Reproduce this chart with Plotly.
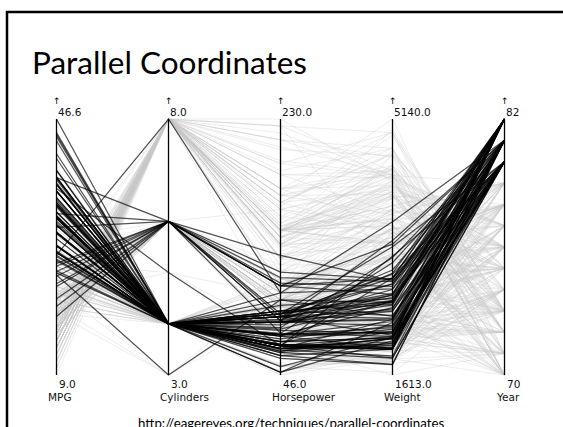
import plotly.graph_objects as go

# Parallel coordinates of the classic auto-mpg data set.
# Each row: (mpg, cylinders, horsepower, weight); model year given by the list name.
AXIS_NAMES = ["MPG", "Cylinders", "Horsepower", "Weight", "Year"]
AXIS_MIN = [9.0, 3.0, 46.0, 1613.0, 70]
AXIS_MAX = [46.6, 8.0, 230.0, 5140.0, 82]
AXIS_MIN_LABELS = ["9.0", "3.0", "46.0", "1613.0", "70"]
AXIS_MAX_LABELS = ["46.6", "8.0", "230.0", "5140.0", "82"]
HIGHLIGHT_YEARS = [80, 81, 82]

CARS_70 = [
    (18, 8, 130, 3504), (15, 8, 165, 3693), (18, 8, 150, 3436), (16, 8, 150, 3433),
    (17, 8, 140, 3449), (15, 8, 198, 4341), (14, 8, 220, 4354), (14, 8, 215, 4312),
    (14, 8, 225, 4425), (15, 8, 190, 3850), (15, 8, 170, 3563), (14, 8, 160, 3609),
    (15, 8, 150, 3761), (14, 8, 225, 3086), (24, 4, 95, 2372), (22, 6, 95, 2833),
    (18, 6, 97, 2774), (21, 6, 85, 2587), (27, 4, 88, 2130), (26, 4, 46, 1835),
    (25, 4, 87, 2672), (24, 4, 90, 2430), (25, 4, 95, 2375), (26, 4, 113, 2234),
    (21, 6, 90, 2648), (10, 8, 215, 4615), (10, 8, 200, 4376), (11, 8, 210, 4382),
    (9, 8, 193, 4732),
]
CARS_71 = [
    (27, 4, 88, 2130), (28, 4, 90, 2264), (25, 4, 95, 2228), (19, 6, 100, 2634),
    (16, 6, 105, 3439), (17, 6, 100, 3329), (19, 6, 88, 3302), (18, 6, 100, 3288),
    (14, 8, 165, 4209), (14, 8, 175, 4464), (14, 8, 153, 4154), (14, 8, 150, 4096),
    (12, 8, 180, 4955), (13, 8, 170, 4746), (13, 8, 175, 5140), (18, 6, 110, 2962),
    (22, 4, 72, 2408), (19, 6, 100, 3282), (18, 6, 88, 3139), (23, 4, 86, 2220),
    (28, 4, 90, 2123), (30, 4, 70, 2074), (30, 4, 76, 2065), (31, 4, 65, 1773),
    (35, 4, 69, 1613), (27, 4, 60, 1834), (26, 4, 70, 1955),
]
CARS_72 = [
    (24, 4, 95, 2278), (25, 4, 80, 2126), (23, 4, 54, 2254), (20, 4, 90, 2408),
    (21, 4, 86, 2226), (13, 8, 165, 4274), (14, 8, 175, 4385), (15, 8, 150, 4135),
    (14, 8, 153, 4129), (17, 8, 150, 3672), (11, 8, 208, 4633), (13, 8, 155, 4502),
    (12, 8, 160, 4456), (13, 8, 190, 4422), (19, 3, 97, 2330), (15, 8, 150, 3892),
    (13, 8, 130, 4098), (13, 8, 140, 4294), (14, 8, 150, 4077), (18, 4, 80, 2933),
    (22, 4, 80, 2511), (21, 4, 76, 2979), (26, 4, 88, 2189), (22, 4, 86, 2395),
    (28, 4, 92, 2288), (23, 4, 97, 2506), (28, 4, 80, 2164), (27, 4, 88, 2100),
]
CARS_73 = [
    (13, 8, 175, 4100), (14, 8, 150, 3672), (13, 8, 145, 3988), (14, 8, 137, 4042),
    (15, 8, 150, 3777), (12, 8, 198, 4952), (13, 8, 150, 4464), (13, 8, 158, 4363),
    (14, 8, 150, 4237), (13, 8, 215, 4735), (12, 8, 225, 4951), (13, 8, 175, 3821),
    (18, 6, 105, 3121), (16, 6, 100, 3278), (18, 6, 100, 2945), (18, 6, 88, 3021),
    (23, 6, 95, 2904), (26, 4, 46, 1950), (11, 8, 150, 4997), (12, 8, 167, 4906),
    (13, 8, 170, 4654), (12, 8, 180, 4499), (18, 6, 100, 2789), (20, 4, 88, 2279),
    (21, 4, 72, 2401), (22, 4, 94, 2379), (18, 3, 90, 2124), (19, 4, 85, 2310),
    (21, 6, 107, 2472), (26, 4, 90, 2265), (15, 8, 145, 4082), (16, 8, 230, 4278),
    (29, 4, 49, 1867), (24, 4, 75, 2158), (20, 4, 91, 2582), (19, 4, 112, 2868),
    (15, 8, 150, 3399), (24, 4, 110, 2660), (20, 6, 122, 2807), (11, 8, 180, 3664),
]
CARS_74 = [
    (20, 6, 95, 3102), (19, 6, 100, 2901), (15, 6, 100, 3336), (31, 4, 67, 1950),
    (26, 4, 80, 2451), (32, 4, 65, 1836), (25, 4, 75, 2542), (16, 6, 100, 3781),
    (16, 6, 110, 3632), (18, 6, 105, 3613), (16, 8, 140, 4141), (13, 8, 150, 4699),
    (14, 8, 150, 4457), (14, 8, 140, 4638), (14, 8, 150, 4257), (29, 4, 83, 2219),
    (26, 4, 67, 1963), (26, 4, 78, 2300), (31, 4, 52, 1649), (32, 4, 61, 2003),
    (28, 4, 75, 2125), (24, 4, 75, 2108), (26, 4, 91, 2246), (24, 4, 93, 2254),
    (26, 4, 52, 1795), (31, 4, 53, 1825),
]
CARS_75 = [
    (19, 6, 100, 3264), (18, 6, 78, 3574), (15, 6, 110, 3574), (15, 6, 95, 3645),
    (16, 8, 170, 4668), (15, 8, 145, 4440), (16, 8, 148, 4498), (14, 8, 110, 4657),
    (17, 6, 105, 3907), (16, 6, 110, 3897), (15, 6, 95, 3730), (18, 6, 110, 3785),
    (21, 6, 72, 3039), (20, 6, 110, 3221), (13, 8, 129, 3169), (29, 4, 75, 2171),
    (23, 4, 83, 2639), (20, 6, 100, 2914), (23, 4, 78, 2592), (24, 4, 96, 2702),
    (25, 4, 71, 2223), (24, 4, 97, 2545), (18, 6, 97, 2984), (29, 4, 70, 1937),
    (19, 6, 90, 3211), (23, 4, 95, 2694), (23, 4, 88, 2957), (22, 4, 98, 2945),
    (25, 4, 115, 2671), (33, 4, 53, 1795),
]
CARS_76 = [
    (28, 4, 86, 2464), (25, 4, 81, 2220), (25, 4, 92, 2572), (26, 4, 79, 2255),
    (27, 4, 83, 2202), (17.5, 8, 140, 4215), (16, 8, 150, 4190), (15.5, 8, 120, 3962),
    (14.5, 8, 152, 4215), (22, 6, 100, 3233), (22, 6, 105, 3353), (24, 6, 81, 3012),
    (22.5, 6, 90, 3085), (29, 4, 52, 2035), (24.5, 4, 60, 2164), (29, 4, 70, 1937),
    (33, 4, 53, 1795), (20, 6, 100, 3651), (18, 6, 78, 3574), (18.5, 6, 110, 3645),
    (17.5, 6, 95, 3193), (29.5, 4, 71, 1825), (32, 4, 70, 1990), (28, 4, 75, 2155),
    (26.5, 4, 72, 2565), (20, 4, 102, 3150), (13, 8, 150, 3940), (19, 4, 88, 3270),
    (19, 6, 108, 2930), (16.5, 6, 120, 3820), (16.5, 8, 180, 4380), (13, 8, 145, 4055),
    (13, 8, 130, 3870), (13, 8, 150, 3755),
]
CARS_77 = [
    (31.5, 4, 68, 2045), (30, 4, 80, 2155), (36, 4, 58, 1825), (25.5, 4, 96, 2300),
    (33.5, 4, 70, 1945), (17.5, 8, 145, 3880), (17, 8, 110, 4060), (15.5, 8, 145, 4140),
    (15, 8, 130, 4295), (17.5, 6, 110, 3520), (20.5, 6, 105, 3425), (19, 6, 100, 3630),
    (18.5, 6, 98, 3525), (16, 8, 180, 4220), (15.5, 8, 170, 4165), (15.5, 8, 190, 4325),
    (16, 8, 149, 4335), (29, 4, 78, 1940), (24.5, 4, 88, 2740), (26, 4, 75, 2265),
    (25.5, 4, 89, 2755), (30.5, 4, 63, 2051), (33.5, 4, 83, 2075), (30, 4, 67, 1985),
    (30.5, 4, 78, 2190), (22, 6, 97, 2815), (21.5, 4, 110, 2600), (21.5, 3, 110, 2720),
]
CARS_78 = [
    (43.1, 4, 48, 1985), (36.1, 4, 66, 1800), (32.8, 4, 52, 1985), (39.4, 4, 70, 2070),
    (36.1, 4, 60, 1800), (19.9, 8, 110, 3365), (19.4, 8, 140, 3735), (20.2, 8, 139, 3570),
    (19.2, 6, 105, 3535), (20.5, 6, 95, 3155), (20.2, 6, 85, 2965), (25.1, 4, 88, 2720),
    (20.5, 6, 100, 3430), (19.4, 6, 90, 3210), (20.6, 6, 105, 3380), (20.8, 6, 85, 3070),
    (18.6, 6, 110, 3620), (18.1, 6, 120, 3410), (19.2, 8, 145, 3425), (17.7, 6, 165, 3445),
    (18.1, 8, 139, 3205), (17.5, 8, 140, 4080), (30, 4, 68, 2155), (27.5, 4, 95, 2560),
    (27.2, 4, 97, 2300), (30.9, 4, 75, 2230), (21.1, 4, 95, 2515), (23.2, 4, 105, 2745),
    (23.8, 4, 85, 2855), (23.9, 4, 88, 2405), (20.3, 5, 103, 2830), (17, 6, 125, 3140),
    (21.6, 4, 115, 2795), (16.2, 6, 133, 3410), (31.5, 4, 71, 1990), (29.5, 4, 68, 2135),
]
CARS_79 = [
    (21.5, 6, 115, 3245), (19.8, 6, 85, 2990), (22.3, 4, 88, 2890), (20.2, 6, 90, 3265),
    (20.6, 6, 110, 3360), (17, 8, 130, 3840), (17.6, 8, 129, 3725), (16.5, 8, 138, 3955),
    (18.2, 8, 135, 3830), (16.9, 8, 155, 4360), (15.5, 8, 142, 4054), (19.2, 8, 125, 3605),
    (18.5, 8, 150, 3940), (31.9, 4, 71, 1925), (34.1, 4, 65, 1975), (35.7, 4, 80, 1915),
    (27.4, 4, 80, 2670), (25.4, 5, 77, 3530), (23, 8, 125, 3900), (27.2, 4, 71, 3190),
    (23.9, 8, 90, 3420), (34.2, 4, 70, 2200), (34.5, 4, 70, 2150), (31.8, 4, 65, 2020),
    (37.3, 4, 69, 2130), (28.4, 4, 90, 2670), (28.8, 6, 115, 2595), (26.8, 6, 115, 2700),
    (33.5, 4, 90, 2556),
]
CARS_80 = [
    (32.1, 4, 70, 2120), (37.2, 4, 65, 2019), (28.0, 4, 90, 2678), (26.4, 4, 88, 2870),
    (24.3, 4, 90, 3003), (19.1, 6, 90, 3381), (34.3, 4, 78, 2188), (29.8, 4, 90, 2711),
    (31.3, 4, 75, 2542), (37.0, 4, 92, 2434), (32.2, 4, 75, 2265), (46.6, 4, 65, 2110),
    (27.9, 4, 105, 2800), (40.8, 4, 65, 2110), (44.3, 4, 48, 2085), (43.4, 4, 48, 2335),
    (36.4, 5, 67, 2950), (30.0, 4, 67, 3250), (44.6, 4, 67, 1850), (33.8, 4, 67, 2145),
    (29.8, 4, 62, 1845), (32.7, 6, 132, 2910), (23.7, 3, 100, 2420), (35.0, 4, 88, 2500),
    (32.4, 4, 72, 2290), (41.5, 4, 76, 2144), (38.1, 4, 60, 1968),
]
CARS_81 = [
    (27.2, 4, 84, 2490), (26.6, 4, 84, 2635), (25.8, 4, 92, 2620), (23.5, 6, 110, 2725),
    (30.0, 4, 84, 2385), (39.1, 4, 58, 1755), (39.0, 4, 64, 1875), (35.1, 4, 60, 1760),
    (32.3, 4, 67, 2065), (37.0, 4, 65, 1975), (37.7, 4, 62, 2050), (34.1, 4, 68, 1985),
    (34.7, 4, 63, 2215), (34.4, 4, 65, 2045), (29.9, 4, 65, 2380), (33.0, 4, 74, 2190),
    (33.7, 4, 75, 2210), (32.4, 4, 75, 2350), (32.9, 4, 100, 2615), (31.6, 4, 74, 2635),
    (28.1, 4, 80, 3230), (30.7, 6, 76, 3160), (25.4, 6, 116, 2900), (24.2, 6, 120, 2930),
    (22.4, 6, 110, 3415), (26.6, 8, 105, 3725), (20.2, 6, 88, 3060), (17.6, 6, 85, 3465),
]
CARS_82 = [
    (28.0, 4, 88, 2605), (27.0, 4, 88, 2640), (34.0, 4, 88, 2395), (31.0, 4, 85, 2575),
    (29.0, 4, 84, 2525), (27.0, 4, 90, 2735), (24.0, 4, 92, 2865), (36.0, 4, 74, 1980),
    (37.0, 4, 68, 2025), (31.0, 4, 68, 1970), (38.0, 4, 63, 2125), (36.0, 4, 70, 2125),
    (36.0, 4, 88, 2160), (36.0, 4, 75, 2205), (34.0, 4, 70, 2245), (38.0, 4, 67, 1965),
    (32.0, 4, 67, 1965), (38.0, 4, 67, 1995), (25.0, 6, 110, 2945), (38.0, 6, 85, 3015),
    (26.0, 4, 92, 2585), (22.0, 6, 112, 2835), (32.0, 4, 96, 2665), (36.0, 4, 84, 2370),
    (27.0, 4, 90, 2950), (27.0, 4, 86, 2790), (44.0, 4, 52, 2130), (32.0, 4, 84, 2295),
    (28.0, 4, 79, 2625), (31.0, 4, 82, 2720),
]

CARS_BY_YEAR = {
    70: CARS_70, 71: CARS_71, 72: CARS_72, 73: CARS_73, 74: CARS_74, 75: CARS_75,
    76: CARS_76, 77: CARS_77, 78: CARS_78, 79: CARS_79, 80: CARS_80, 81: CARS_81,
    82: CARS_82,
}

W, H = 563, 427
# pixel layout of the axes block
AX_LEFT, AX_STEP = 56.5, 112.0
AX_TOP, AX_BOTTOM = 119.0, 375.0
span = AX_BOTTOM - AX_TOP

x_lo = -AX_LEFT / AX_STEP
x_hi = x_lo + W / AX_STEP
y_lo = -(H - AX_BOTTOM) / span
y_hi = 1 + AX_TOP / span


def scale(dim, value):
    """Linear scale of one dimension onto the unit axis height."""
    return (value - AXIS_MIN[dim]) / (AXIS_MAX[dim] - AXIS_MIN[dim])


GREY = "rgba(200,200,200,0.32)"
DARK = "rgba(0,0,0,0.68)"

fig = go.Figure()
xs = list(range(len(AXIS_NAMES)))
for highlighted in (False, True):
    for year, rows in CARS_BY_YEAR.items():
        if (year in HIGHLIGHT_YEARS) != highlighted:
            continue
        for mpg, cyl, hp, wt in rows:
            vals = [mpg, cyl, hp, wt, year]
            ys = [scale(d, v) for d, v in enumerate(vals)]
            fig.add_trace(go.Scatter(
                x=xs, y=ys, mode="lines",
                line=dict(color=DARK if highlighted else GREY,
                          width=1.25 if highlighted else 1.0),
                hoverinfo="skip", showlegend=False,
            ))

# vertical axis lines
ax_x, ax_y = [], []
for i in xs:
    ax_x += [i, i, None]
    ax_y += [0, 1, None]
fig.add_trace(go.Scatter(x=ax_x, y=ax_y, mode="lines",
                         line=dict(color="black", width=1.3),
                         hoverinfo="skip", showlegend=False))

LABEL_FONT = dict(family="DejaVu Sans", size=10.5, color="#111")
annotations = []
for i, name in enumerate(AXIS_NAMES):
    annotations.append(dict(x=i, y=1, xref="x", yref="y", text="\u2191",
                            showarrow=False, xanchor="center", yanchor="middle",
                            yshift=18, font=dict(family="DejaVu Sans", size=9, color="black")))
    annotations.append(dict(x=i, y=1, xref="x", yref="y", text=AXIS_MAX_LABELS[i],
                            showarrow=False, xanchor="left", yanchor="middle",
                            xshift=-1, yshift=7, font=LABEL_FONT))
    annotations.append(dict(x=i, y=0, xref="x", yref="y", text=AXIS_MIN_LABELS[i],
                            showarrow=False, xanchor="left", yanchor="middle",
                            xshift=0, yshift=-9, font=LABEL_FONT))
    annotations.append(dict(x=i, y=0, xref="x", yref="y", text=name,
                            showarrow=False, xanchor="left", yanchor="middle",
                            xshift=-11, yshift=-22, font=LABEL_FONT))

annotations.append(dict(x=30 / W, y=1 - 62 / H, xref="paper", yref="paper",
                        text="Parallel Coordinates", showarrow=False,
                        xanchor="left", yanchor="middle",
                        font=dict(family="Lato", size=31.5, color="black")))
annotations.append(dict(x=291 / W, y=1 - 423 / H, xref="paper", yref="paper",
                        text="http://eagereyes.org/techniques/parallel-coordinates",
                        showarrow=False, xanchor="center", yanchor="middle",
                        font=dict(family="Lato", size=13.3, color="black")))

fig.update_layout(
    width=W, height=H,
    margin=dict(l=0, r=0, t=0, b=0),
    paper_bgcolor="white", plot_bgcolor="white",
    xaxis=dict(range=[x_lo, x_hi], visible=False, fixedrange=True),
    yaxis=dict(range=[y_lo, y_hi], visible=False, fixedrange=True),
    annotations=annotations,
    shapes=[dict(type="rect", xref="paper", yref="paper",
                 x0=7 / W, x1=1.05, y0=-0.05, y1=1 - 12 / H,
                 line=dict(color="black", width=2.5), fillcolor="rgba(0,0,0,0)")],
    hovermode=False,
)

fig.write_html("out.html", config={"displayModeBar": False})
